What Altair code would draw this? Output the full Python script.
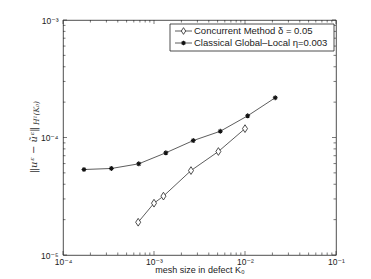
import altair as alt
import pandas as pd

# ---- data ----
conc_x = [6.7e-4, 1.0e-3, 1.27e-3, 2.55e-3, 5.1e-3, 1.0e-2]
conc_y = [1.90e-5, 2.76e-5, 3.17e-5, 5.23e-5, 7.6e-5, 1.19e-4]
clas_x = [1.7e-4, 3.4e-4, 6.8e-4, 1.35e-3, 2.7e-3, 5.35e-3, 1.07e-2, 2.15e-2]
clas_y = [5.34e-5, 5.45e-5, 5.97e-5, 7.41e-5, 9.42e-5, 1.13e-4, 1.53e-4, 2.18e-4]
series_names = ["Concurrent Method δ = 0.05", "Classical Global–Local η=0.003"]
x_major = [1e-4, 1e-3, 1e-2, 1e-1]
y_major = [1e-5, 1e-4, 1e-3]
x_title = "mesh size in defect K₀"
y_title_main = "‖uᵋ − ũᵋ‖"
y_title_sub = "H¹(K₀)"

x_minor = [m * 10.0 ** e for e in (-4, -3, -2) for m in range(2, 10)]
y_minor = [m * 10.0 ** e for e in (-5, -4) for m in range(2, 10)]

W, H = 273, 235
FONT = "Liberation Sans, Arial, DejaVu Sans"
INK = "#222222"

xs = alt.Scale(type="log", domain=[1e-4, 1e-1], nice=False)
ys = alt.Scale(type="log", domain=[1e-5, 1e-3], nice=False)
label_expr = "'10' + ['⁰','⁻¹','⁻²','⁻³','⁻⁴','⁻⁵'][round(-log(datum.value)/LN10)]"
xaxis = alt.Axis(values=x_major, labelExpr=label_expr, ticks=False, domain=False, grid=False,
                 title=x_title, labelFont=FONT, labelFontSize=8.5, labelColor=INK, labelPadding=2,
                 titleFont=FONT, titleFontSize=9, titleFontWeight="normal", titleColor=INK,
                 titlePadding=0, labelFlush=False)
yaxis = alt.Axis(values=y_major, labelExpr=label_expr, ticks=False, domain=False, grid=False,
                 title=None, labelFont=FONT, labelFontSize=8.5, labelColor=INK, labelPadding=5)
X = alt.X("x:Q", scale=xs, axis=xaxis)
Y = alt.Y("y:Q", scale=ys, axis=yaxis)

conc = pd.DataFrame({"x": conc_x, "y": conc_y, "s": series_names[0]})
clas = pd.DataFrame({"x": clas_x, "y": clas_y, "s": series_names[1]})

diamond = "M0,-1L0.65,0L0,1L-0.65,0Z"
aster = "M-1,0L1,0M0,-1L0,1M-0.7,-0.7L0.7,0.7M-0.7,0.7L0.7,-0.7"

layers = []
layers.append(alt.Chart(clas).mark_line(color="#333333", strokeWidth=0.8).encode(x=X, y=Y))
layers.append(alt.Chart(conc).mark_line(color="#333333", strokeWidth=0.8).encode(x=X, y=Y))
layers.append(alt.Chart(clas).mark_point(shape=aster, size=24, filled=False, color="#111111",
                                         strokeWidth=1.1, opacity=1).encode(x=X, y=Y))
layers.append(alt.Chart(conc).mark_point(shape=diamond, size=60, fill="white", stroke="#222222",
                                         strokeWidth=0.8, opacity=1, fillOpacity=1).encode(x=X, y=Y))

# inward ticks on all four sides
def xticks(vals, L):
    d = pd.DataFrame({"x": vals})
    b = alt.Chart(d).mark_rule(color=INK, strokeWidth=0.6).encode(x=X, y=alt.value(H), y2=alt.value(H - L))
    t = alt.Chart(d).mark_rule(color=INK, strokeWidth=0.6).encode(x=X, y=alt.value(0), y2=alt.value(L))
    return [b, t]

def yticks(vals, L):
    d = pd.DataFrame({"y": vals})
    l = alt.Chart(d).mark_rule(color=INK, strokeWidth=0.6).encode(y=Y, x=alt.value(0), x2=alt.value(L))
    r = alt.Chart(d).mark_rule(color=INK, strokeWidth=0.6).encode(y=Y, x=alt.value(W), x2=alt.value(W - L))
    return [l, r]

layers += xticks(x_major, 4) + xticks(x_minor, 2.5) + yticks(y_major, 4) + yticks(y_minor, 2.5)

# legend box
LX0, LX1, LY0, LY1 = 107, 271, 4, 31
ROW1, ROW2 = 11, 23
layers.append(alt.Chart(pd.DataFrame({"a": [0]})).mark_rect(fill="white", stroke=INK, strokeWidth=0.8).encode(
    x=alt.value(LX0), x2=alt.value(LX1), y=alt.value(LY0), y2=alt.value(LY1)))
for i, row in enumerate([ROW1, ROW2]):
    dd = pd.DataFrame({"t": [series_names[i]]})
    layers.append(alt.Chart(dd).mark_rule(color="#333333", strokeWidth=0.8).encode(
        x=alt.value(LX0 + 5), x2=alt.value(LX0 + 22), y=alt.value(row)))
    if i == 0:
        layers.append(alt.Chart(dd).mark_point(shape=diamond, size=45, fill="white", stroke="#222222",
                                               strokeWidth=0.8, opacity=1, fillOpacity=1).encode(
            x=alt.value(LX0 + 13.5), y=alt.value(row)))
    else:
        layers.append(alt.Chart(dd).mark_point(shape=aster, size=22, filled=False, color="#111111",
                                               strokeWidth=1.1, opacity=1).encode(
            x=alt.value(LX0 + 13.5), y=alt.value(row)))
    layers.append(alt.Chart(dd).mark_text(align="left", baseline="middle", font=FONT, fontSize=9.5,
                                          color=INK).encode(
        x=alt.value(LX0 + 24), y=alt.value(row), text="t:N"))

# y title (main + subscript), rotated
layers.append(alt.Chart(pd.DataFrame({"t": [y_title_main]})).mark_text(
    angle=270, align="left", baseline="alphabetic", font="DejaVu Serif", fontStyle="italic",
    fontSize=10, color="#333333").encode(x=alt.value(-26), y=alt.value(153), text="t:N"))
layers.append(alt.Chart(pd.DataFrame({"t": [y_title_sub]})).mark_text(
    angle=270, align="left", baseline="alphabetic", font="DejaVu Serif", fontStyle="italic",
    fontSize=7.5, color="#333333").encode(x=alt.value(-24), y=alt.value(105), text="t:N"))

chart = alt.layer(*layers).properties(
    width=W, height=H,
    padding={"left": 55, "top": 12, "right": 27, "bottom": 24},
    autosize=alt.AutoSizeParams(type="none"),
    background="white",
).configure_view(stroke=INK, strokeWidth=0.8)

chart.save("out.html", embed_options={"renderer": "svg", "actions": False})
